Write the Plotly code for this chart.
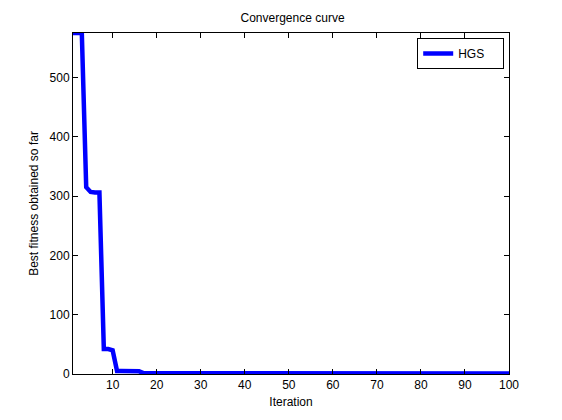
import plotly.graph_objects as go

iterations = list(range(1, 101))
best_fitness = [
    575, 575, 575, 315, 307, 306, 306, 42, 42, 40,
    5, 5, 5, 5, 4.5, 4.5, 1.6, 1.6, 1.5, 1.5,
    1.5, 1.5, 1.4, 1.4, 1.4, 1.3, 1.3, 1.2, 1.2, 0.9,
    0.9, 0.9, 0.9, 0.9, 0.9, 0.9, 0.9, 0.9, 0.9, 0.9,
    0.9, 0.9, 0.9, 0.9, 0.9, 0.9, 0.9, 0.9, 0.9, 0.9,
    0.9, 0.9, 0.9, 0.9, 0.9, 0.9, 0.9, 0.9, 0.9, 0.9,
    0.9, 0.9, 0.9, 0.9, 0.9, 0.9, 0.9, 0.9, 0.9, 0.9,
    0.9, 0.9, 0.9, 0.9, 0.9, 0.9, 0.9, 0.9, 0.9, 0.9,
    0.9, 0.9, 0.9, 0.9, 0.9, 0.9, 0.9, 0.9, 0.9, 0.9,
    0.9, 0.9, 0.9, 0.9, 0.9, 0.9, 0.9, 0.9, 0.9, 0.9,
]
x_ticks = [10, 20, 30, 40, 50, 60, 70, 80, 90, 100]
y_ticks = [0, 100, 200, 300, 400, 500]

font = "Liberation Sans, Arial, sans-serif"

fig = go.Figure()
fig.add_trace(go.Scatter(
    x=iterations,
    y=best_fitness,
    mode="lines",
    line=dict(color="rgb(0,0,255)", width=4.5),
    name="HGS",
))

axis_style = dict(
    showgrid=False,
    zeroline=False,
    showline=True,
    linecolor="black",
    linewidth=1,
    mirror="ticks",
    ticks="inside",
    ticklen=5,
    tickcolor="black",
    tickfont=dict(family=font, size=12, color="black"),
)

# the page body adds an 8px offset, so margins are pulled in by 8px
fig.update_layout(
    width=562,
    height=420,
    margin=dict(l=65, r=61, t=25, b=54),
    paper_bgcolor="white",
    plot_bgcolor="white",
    font=dict(family=font, size=12, color="black"),
    title=dict(
        text="Convergence curve",
        x=(65 + 218) / 562, xref="paper", xanchor="center",
        y=1 - 10 / 420, yanchor="middle",
        font=dict(family=font, size=12, color="black"),
    ),
    xaxis=dict(
        range=[1, 100],
        tickvals=x_ticks,
        title=dict(text="Iteration", standoff=6,
                   font=dict(family=font, size=12)),
        **axis_style,
    ),
    yaxis=dict(
        range=[0, 575],
        tickvals=y_ticks,
        title=dict(text="Best fitness obtained so far", standoff=8,
                   font=dict(family=font, size=12)),
        **axis_style,
    ),
    legend=dict(
        orientation="h",
        x=0.989, xanchor="right",
        y=0.985, yanchor="top",
        bgcolor="white",
        bordercolor="black",
        borderwidth=1,
        entrywidth=40,
        entrywidthmode="pixels",
        font=dict(family=font, size=12, color="black"),
    ),
    showlegend=True,
)

fig.write_html("out.html")
